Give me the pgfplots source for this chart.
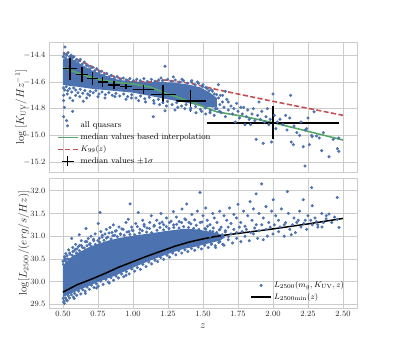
\documentclass[border=0pt]{standalone}
\usepackage{pgfplots}
\pgfplotsset{compat=1.18}
\definecolor{sbblue}{HTML}{4C72B0}
\definecolor{sbred}{HTML}{C44E52}
\definecolor{sbgreen}{HTML}{55A868}
\definecolor{gridgray}{HTML}{CCCCCC}
\definecolor{txt}{HTML}{262626}

\pgfplotsset{
  panel/.style={
    scale only axis, width=308pt, height=130pt,
    xmin=0.4, xmax=2.6,
    xtick={0.5,0.75,1.0,1.25,1.5,1.75,2.0,2.25,2.5},
    axis line style={gridgray, line width=0.8pt},
    grid=major, major grid style={gridgray, line width=0.8pt},
    major tick length=0pt,
    tick label style={font=\fontsize{8}{9}\selectfont, text=txt},
    label style={font=\fontsize{10.5}{12}\selectfont, text=txt},
    legend style={draw=none, fill=none, font=\fontsize{8.5}{10}\selectfont,
      row sep=0pt, nodes={inner sep=2.2pt}},
    legend cell align=left,
  },
  qso/.style={only marks, mark=*, mark size=1.35pt, sbblue,
    mark options={draw=sbblue, fill=sbblue},
    legend image code/.code={\fill[sbblue] (10pt,0pt) circle (1.3pt);}},
}

\begin{document}
\begin{tikzpicture}
\path[use as bounding box] (0pt,0pt) rectangle (397pt,347pt);

% upper panel: K_UV against z
\begin{axis}[panel, at={(49pt,175pt)}, anchor=south west,
  ymin=-15.275, ymax=-14.30,
  ytick={-15.2,-15.0,-14.8,-14.6,-14.4},
  xticklabels={},
  yticklabel style={/pgf/number format/.cd, fixed, fixed zerofill, precision=1},
  ylabel={$\log\,[K_{\rm UV}/Hz^{-1}]$},
  ylabel style={at={(rel axis cs:0,0.5)}, anchor=center, yshift=28pt},
  legend style={at={(rel axis cs:0.015,0.02)}, anchor=south west},
]
% dense core of the cloud
\addplot[draw=none, fill=sbblue, forget plot] coordinates {
  (0.50,-14.43) (0.55,-14.42) (0.60,-14.45) (0.65,-14.48) (0.70,-14.51)
  (0.75,-14.53) (0.80,-14.55) (0.85,-14.57) (0.90,-14.585) (0.95,-14.59)
  (1.00,-14.595) (1.10,-14.60) (1.20,-14.60) (1.30,-14.605) (1.40,-14.62)
  (1.48,-14.64) (1.55,-14.68) (1.60,-14.72)
  (1.60,-14.79) (1.55,-14.79) (1.48,-14.78) (1.40,-14.76) (1.30,-14.74)
  (1.20,-14.72) (1.10,-14.70) (1.00,-14.68) (0.90,-14.67) (0.80,-14.66)
  (0.70,-14.65) (0.60,-14.635) (0.55,-14.63) (0.50,-14.62)
} -- cycle;
\addplot[qso] coordinates {
  (0.502,-14.41) (0.509,-14.39) (0.518,-14.42) (0.527,-14.40) (0.536,-14.38)
  (0.548,-14.41) (0.559,-14.40) (0.566,-14.42) (0.578,-14.41) (0.589,-14.44)
  (0.597,-14.43) (0.612,-14.445) (0.624,-14.43) (0.638,-14.465) (0.651,-14.45)
  (0.667,-14.475) (0.683,-14.48) (0.694,-14.50) (0.712,-14.49) (0.728,-14.515)
  (0.741,-14.50) (0.759,-14.525) (0.777,-14.52) (0.793,-14.545) (0.812,-14.535)
  (0.829,-14.56) (0.846,-14.55) (0.868,-14.57) (0.887,-14.56) (0.909,-14.58)
  (0.931,-14.57) (0.953,-14.585) (0.978,-14.575) (1.004,-14.59) (1.027,-14.58)
  (1.052,-14.59) (1.078,-14.575) (1.103,-14.595) (1.131,-14.58) (1.157,-14.595)
  (1.184,-14.585) (1.211,-14.59) (1.247,-14.58) (1.276,-14.595) (1.302,-14.585)
  (1.334,-14.60) (1.361,-14.59) (1.389,-14.61) (1.417,-14.60) (1.443,-14.62)
  (1.468,-14.61) (1.496,-14.635) (1.519,-14.64) (1.543,-14.665) (1.568,-14.67)
  (1.597,-14.695) (1.624,-14.70)
  (0.504,-14.645) (0.513,-14.66) (0.523,-14.635) (0.534,-14.665) (0.547,-14.65)
  (0.562,-14.675) (0.576,-14.645) (0.591,-14.66) (0.607,-14.68) (0.623,-14.655)
  (0.641,-14.685) (0.656,-14.665) (0.677,-14.69) (0.694,-14.67) (0.716,-14.68)
  (0.735,-14.665) (0.757,-14.69) (0.779,-14.675) (0.803,-14.695) (0.827,-14.68)
  (0.852,-14.70) (0.878,-14.685) (0.906,-14.705) (0.934,-14.69) (0.962,-14.71)
  (0.991,-14.695) (1.021,-14.72) (1.053,-14.705) (1.084,-14.725) (1.116,-14.715)
  (1.148,-14.74) (1.181,-14.73) (1.213,-14.755) (1.246,-14.745) (1.279,-14.77)
  (1.312,-14.755) (1.346,-14.78) (1.379,-14.77) (1.412,-14.795) (1.447,-14.785)
  (1.481,-14.805) (1.516,-14.795) (1.552,-14.815) (1.588,-14.80) (1.618,-14.82)
  (0.514,-14.338) (1.229,-14.482) (1.288,-14.562) (1.20,-14.57) (1.35,-14.58)
  (1.42,-14.59) (1.50,-14.62) (1.46,-14.60) (1.53,-14.65) (1.56,-14.66)
  (1.61,-14.62) (1.58,-14.69) (1.64,-14.70) (1.66,-14.67)
  (0.505,-14.70) (0.505,-14.74) (0.51,-14.79) (0.505,-14.86) (0.526,-14.89)
  (0.53,-14.69) (0.55,-14.72) (0.57,-14.74) (0.569,-14.82) (0.59,-14.70)
  (0.62,-14.71) (0.645,-14.744) (0.67,-14.72) (0.69,-14.70) (0.75,-14.71)
  (0.80,-14.72) (0.871,-14.71) (0.95,-14.73) (0.99,-14.72) (1.04,-14.74)
  (1.09,-14.75) (1.145,-14.861) (1.15,-14.76) (1.19,-14.77) (1.229,-14.816)
  (1.24,-14.78) (1.30,-14.81) (1.32,-14.79) (1.37,-14.80) (1.41,-14.81)
  (1.45,-14.83) (1.49,-14.82) (1.52,-14.84) (1.55,-14.83) (1.58,-14.85)
  (1.52,-14.72) (1.54,-14.75) (1.55,-14.70) (1.57,-14.78) (1.58,-14.74)
  (1.60,-14.80) (1.61,-14.72) (1.62,-14.77) (1.63,-14.83) (1.64,-14.75)
  (1.65,-14.79) (1.66,-14.86) (1.67,-14.73) (1.68,-14.81) (1.68,-14.75)
  (1.70,-14.78) (1.71,-14.84) (1.72,-14.80) (1.73,-14.90) (1.74,-14.76)
  (1.75,-14.82) (1.76,-14.87) (1.77,-14.79) (1.78,-14.84) (1.79,-14.79)
  (1.80,-14.92) (1.81,-14.86) (1.82,-14.81) (1.83,-14.88) (1.84,-14.92)
  (1.85,-14.84) (1.86,-14.80) (1.87,-14.89) (1.88,-15.03) (1.89,-14.85)
  (1.90,-14.75) (1.91,-14.88) (1.92,-14.82) (1.93,-15.06) (1.94,-14.90)
  (1.95,-14.86) (1.96,-14.80) (1.97,-14.92) (1.98,-14.88) (1.99,-15.05)
  (2.00,-14.69) (2.01,-14.85) (2.02,-14.95) (2.03,-14.90) (2.05,-14.88)
  (2.07,-14.92) (2.09,-14.85) (2.10,-14.96) (2.126,-14.70) (2.13,-15.05)
  (2.12,-14.87) (2.145,-15.07) (2.15,-14.93) (2.17,-14.98) (2.19,-15.00)
  (2.20,-14.90) (2.216,-15.085) (2.229,-15.23) (2.23,-14.96) (2.24,-14.95)
  (2.25,-14.87) (2.26,-15.07) (2.276,-15.00) (2.28,-15.01) (2.293,-14.824)
  (2.31,-15.005) (2.33,-15.02) (2.348,-15.115) (2.36,-14.98) (2.40,-15.16)
  (2.43,-15.03) (2.46,-15.10) (2.47,-15.12) (2.47,-15.02)
};
\addlegendentry{all quasars}
\addplot[sbgreen, line width=1.6pt,
  legend image code/.code={\draw[sbgreen, line width=1.6pt] (0pt,0pt) -- (20pt,0pt);}]
  coordinates {
  (0.5,-14.49) (0.6,-14.53) (0.7,-14.565) (0.8,-14.59) (0.9,-14.605)
  (1.0,-14.615) (1.12,-14.637) (1.25,-14.69) (1.4,-14.744) (1.6,-14.824)
  (1.8,-14.86) (2.0,-14.905) (2.25,-14.97) (2.5,-15.035)
};
\addlegendentry{median values based interpolation}
\addplot[sbred, line width=1.6pt, dash pattern=on 5pt off 2.5pt,
  legend image code/.code={\draw[sbred, line width=1.6pt, dash pattern=on 5pt off 2.5pt]
    (0pt,0pt) -- (20pt,0pt);}]
  coordinates {
  (0.5,-14.38) (0.55,-14.40) (0.6,-14.43) (0.7,-14.48) (0.75,-14.51)
  (0.8,-14.535) (0.9,-14.57) (1.0,-14.594) (1.12,-14.60) (1.23,-14.585)
  (1.3,-14.595) (1.41,-14.61) (1.6,-14.657) (2.0,-14.745) (2.5,-14.85)
};
\addlegendentry{$K_{99}(z)$}
\addplot[draw=none, mark=none,
  legend image code/.code={\draw[black, line width=1.5pt]
    (4pt,0pt) -- (16pt,0pt) (10pt,-5pt) -- (10pt,5pt);},
  error bars/.cd, x dir=both, x explicit, y dir=both, y explicit,
  error mark=none, error bar style={black, line width=1.5pt}]
  coordinates {
  (0.55,-14.50) +- (0.048,0.087)
  (0.634,-14.545) +- (0.044,0.056)
  (0.712,-14.575) +- (0.040,0.047)
  (0.783,-14.60) +- (0.035,0.037)
  (0.864,-14.624) +- (0.040,0.028)
  (0.95,-14.632) +- (0.045,0.020)
  (1.074,-14.657) +- (0.074,0.034)
  (1.216,-14.694) +- (0.090,0.071)
  (1.412,-14.744) +- (0.107,0.081)
  (2.0,-14.906) +- (0.474,0.125)
};
\addlegendentry{median values $\pm 1\sigma$}
\end{axis}

% lower panel: L_2500 against z
\begin{axis}[panel, at={(49pt,39pt)}, anchor=south west,
  ymin=29.42, ymax=32.28,
  ytick={29.5,30.0,30.5,31.0,31.5,32.0},
  xticklabel style={/pgf/number format/.cd, fixed, fixed zerofill, precision=2},
  yticklabel style={/pgf/number format/.cd, fixed, fixed zerofill, precision=1},
  xlabel={$z$},
  ylabel={$\log[L_{2500}/(erg/s/Hz)]$},
  ylabel style={at={(rel axis cs:0,0.5)}, anchor=center, yshift=25pt},
  legend style={at={(rel axis cs:0.975,0.02)}, anchor=south east},
]
\addplot[draw=none, fill=sbblue, forget plot] coordinates {
  (0.50,30.35) (0.55,30.52) (0.60,30.62) (0.68,30.75) (0.75,30.83)
  (0.82,30.90) (0.90,30.96) (1.00,31.01) (1.12,31.06) (1.25,31.12)
  (1.36,31.16) (1.45,31.15) (1.55,31.10) (1.62,31.05) (1.66,30.98)
  (1.62,30.90) (1.55,30.85) (1.45,30.77) (1.36,30.72) (1.25,30.61)
  (1.12,30.46) (1.00,30.31) (0.88,30.14) (0.75,29.99) (0.64,29.85)
  (0.55,29.73) (0.50,29.66)
} -- cycle;
\addplot[qso] coordinates {
  (0.50,30.45) (0.51,30.55) (0.514,30.51) (0.52,30.62) (0.53,30.50)
  (0.54,30.70) (0.55,30.60) (0.562,30.95) (0.57,30.75) (0.58,30.68)
  (0.59,30.82) (0.60,30.72) (0.616,31.03) (0.62,30.80) (0.63,30.90)
  (0.64,30.75) (0.664,31.17) (0.67,30.88) (0.68,30.95) (0.69,30.82)
  (0.70,31.00) (0.72,30.90) (0.73,31.05) (0.752,31.28) (0.76,30.95)
  (0.764,31.52) (0.77,31.10) (0.78,30.98) (0.80,31.05) (0.81,31.15)
  (0.82,30.98) (0.836,31.19) (0.85,31.08) (0.86,31.25) (0.87,31.02)
  (0.88,31.12) (0.90,31.20) (0.91,31.05) (0.93,31.15) (0.95,31.30)
  (0.966,31.37) (0.97,31.10) (0.979,31.71) (0.99,31.20) (1.00,31.12)
  (1.02,31.28) (1.038,31.52) (1.05,31.15) (1.07,31.35) (1.08,31.22)
  (1.10,31.18) (1.12,31.30) (1.13,31.45) (1.15,31.22) (1.17,31.35)
  (1.19,31.28) (1.20,31.50) (1.22,31.25) (1.24,31.40) (1.26,31.30)
  (1.288,31.54) (1.29,31.25) (1.31,31.42) (1.33,31.32) (1.35,31.60)
  (1.37,31.38) (1.384,31.71) (1.40,31.30) (1.42,31.48) (1.44,31.36)
  (1.46,31.55) (1.479,31.96) (1.48,31.30) (1.50,31.45) (1.52,31.62)
  (1.53,31.35) (1.55,31.25) (1.57,31.50) (1.58,31.40) (1.60,31.30)
  (1.62,31.55) (1.63,31.20) (1.65,31.45) (1.67,31.35) (1.69,31.62)
  (1.70,31.28) (1.72,31.48) (1.74,31.40) (1.75,31.70) (1.77,31.30)
  (1.79,31.55) (1.80,31.22) (1.82,31.45) (1.836,31.76) (1.85,31.35)
  (1.86,31.60) (1.879,31.93) (1.88,31.25) (1.90,31.50) (1.919,32.15)
  (1.93,31.40) (1.95,31.65) (1.97,31.30) (1.99,31.55) (2.002,31.80)
  (2.02,31.45) (2.04,31.35) (2.06,31.60) (2.08,31.25) (2.102,31.98)
  (2.11,31.50) (2.13,31.03) (2.15,31.40) (2.17,31.30) (2.19,31.55)
  (2.216,31.80) (2.23,31.35) (2.25,31.45) (2.276,32.07) (2.28,31.67)
  (2.30,31.40) (2.32,31.25) (2.348,31.50) (2.35,31.20) (2.38,31.45)
  (2.40,31.49) (2.42,31.30) (2.459,31.85) (2.46,31.37) (2.471,31.19)
  (0.503,30.38) (0.511,30.47) (0.522,30.44) (0.529,30.57) (0.541,30.49)
  (0.548,30.63) (0.566,30.58) (0.571,30.66) (0.588,30.71) (0.597,30.63)
  (0.609,30.77) (0.618,30.68) (0.633,30.79) (0.652,30.74) (0.659,30.88)
  (0.671,30.79) (0.693,30.84) (0.702,30.78) (0.718,30.93) (0.731,30.82)
  (0.749,30.90) (0.762,30.87) (0.781,31.02) (0.793,30.91) (0.811,30.96)
  (0.828,31.07) (0.843,30.94) (0.857,31.01) (0.874,31.11) (0.889,30.99)
  (0.912,31.04) (0.921,31.16) (0.938,31.02) (0.957,31.09) (0.978,31.04)
  (0.994,31.13) (1.013,31.03) (1.031,31.21) (1.047,31.07) (1.066,31.12)
  (1.079,31.26) (1.097,31.09) (1.118,31.17) (1.133,31.08) (1.152,31.24)
  (1.171,31.13) (1.193,31.19) (1.208,31.31) (1.219,31.14) (1.238,31.21)
  (1.257,31.17) (1.272,31.33) (1.291,31.19) (1.312,31.26) (1.329,31.18)
  (1.347,31.30) (1.361,31.21) (1.378,31.36) (1.396,31.19) (1.414,31.27)
  (1.433,31.17) (1.452,31.24) (1.471,31.15) (1.493,31.31) (1.514,31.17)
  (1.532,31.22) (1.551,31.11) (1.573,31.18) (1.598,31.08) (1.617,31.14)
  (1.638,31.03) (1.659,31.09) (1.681,30.99)
  (0.502,29.63) (0.508,29.57) (0.517,29.64) (0.526,29.60) (0.538,29.69)
  (0.547,29.64) (0.561,29.71) (0.574,29.66) (0.583,29.74) (0.598,29.70)
  (0.612,29.79) (0.627,29.73) (0.641,29.82) (0.658,29.79) (0.672,29.88)
  (0.689,29.83) (0.703,29.92) (0.721,29.87) (0.738,29.95) (0.752,29.90)
  (0.771,30.01) (0.787,29.94) (0.806,30.05) (0.823,29.99) (0.842,30.09)
  (0.861,30.03) (0.879,30.12) (0.897,30.08) (0.918,30.17) (0.934,30.11)
  (0.953,30.22) (0.972,30.17) (0.991,30.28) (1.012,30.23) (1.031,30.31)
  (1.052,30.27) (1.071,30.38) (1.093,30.33) (1.114,30.43) (1.133,30.39)
  (1.157,30.47) (1.176,30.44) (1.198,30.53) (1.219,30.49) (1.243,30.58)
  (1.262,30.54) (1.284,30.63) (1.306,30.59) (1.327,30.68) (1.349,30.63)
  (1.371,30.70) (1.392,30.66) (1.418,30.73) (1.441,30.69) (1.466,30.76)
  (1.489,30.72) (1.512,30.80) (1.537,30.75) (1.561,30.83) (1.587,30.79)
  (1.612,30.86) (1.641,30.82)
  (0.505,29.55) (0.51,29.52) (0.53,29.58) (0.58,29.63) (0.66,29.74)
  (0.74,29.86) (0.83,29.97) (0.95,30.14)
  (1.56,30.82) (1.59,30.75) (1.62,30.88) (1.65,30.80)
  (1.68,30.92) (1.71,30.85) (1.74,30.95) (1.77,30.88) (1.80,31.00)
  (1.83,30.90) (1.86,31.05) (1.89,30.95) (1.93,30.92) (1.96,31.00)
  (2.00,31.05) (2.04,31.10) (2.08,31.00) (2.12,31.15) (2.16,31.08)
  (2.20,31.20) (2.24,31.15) (2.28,31.25) (2.32,31.20) (2.36,31.30)
  (1.50,31.05) (1.52,31.15) (1.55,31.00) (1.57,31.10) (1.60,31.05)
  (1.62,31.15) (1.64,31.02) (1.66,31.12) (1.68,31.20) (1.70,31.05)
  (1.72,31.15) (1.74,31.08) (1.76,31.20) (1.78,31.10) (1.81,31.15)
  (1.84,31.08) (1.87,31.18) (1.90,31.12) (1.92,31.25) (1.95,31.15)
  (1.98,31.20) (2.01,31.25) (2.05,31.20) (2.09,31.30) (2.14,31.25)
  (2.18,31.35) (2.22,31.28) (2.27,31.35) (2.31,31.32) (2.38,31.38)
  (2.44,31.42)
};
\addlegendentry{$L_{2500}(m_g, K_{\rm UV}, z)$}
\addplot[black, line width=1.5pt,
  legend image code/.code={\draw[black, line width=1.5pt] (0pt,0pt) -- (20pt,0pt);}]
  coordinates {
  (0.5,29.77) (0.6,29.93) (0.7,30.05) (0.8,30.18) (0.9,30.32)
  (1.0,30.44) (1.1,30.56) (1.2,30.67) (1.3,30.78) (1.4,30.87)
  (1.5,30.94) (1.6,31.00) (1.75,31.06) (2.0,31.16) (2.25,31.27)
  (2.5,31.39)
};
\addlegendentry{$L_{2500{\rm min}}(z)$}
\end{axis}
\end{tikzpicture}
\end{document}
